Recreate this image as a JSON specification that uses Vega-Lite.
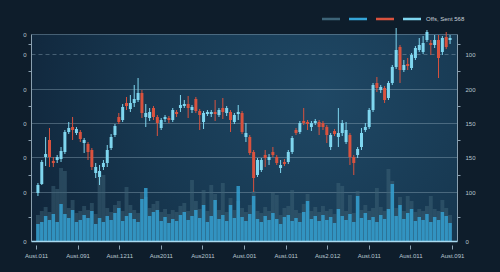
{
  "$schema": "https://vega.github.io/schema/vega-lite/v6.json",
  "width": 426,
  "height": 207,
  "autosize": {"type": "none"},
  "padding": {"left": 31, "top": 34, "right": 43, "bottom": 31},
  "background": "#0e1d2b",
  "config": {
    "font": "Liberation Sans",
    "view": {
      "stroke": null,
      "fill": {
        "gradient": "radial",
        "x1": 0.68, "y1": 0.4, "r1": 0,
        "x2": 0.68, "y2": 0.4, "r2": 0.75,
        "stops": [
          {"offset": 0, "color": "#1f4865"},
          {"offset": 0.55, "color": "#173851"},
          {"offset": 1, "color": "#10253a"}
        ]
      }
    },
    "axis": {"labelFont": "Liberation Sans", "labelColor": "#b8c6d1", "labelFontSize": 6}
  },
  "data": {
    "values": [
      {"t":0,"o":48,"c":56,"h":58,"l":45,"d":"up","vol":17,"bv":26},
      {"t":1,"o":57,"c":79,"h":81,"l":56,"d":"up","vol":19,"bv":30},
      {"t":2,"o":84,"c":87,"h":104,"l":75,"d":"up","vol":25,"bv":34},
      {"t":3,"o":101,"c":84,"h":113,"l":74,"d":"down","vol":21,"bv":29},
      {"t":4,"o":80,"c":78,"h":84,"l":74,"d":"down","vol":27,"bv":55},
      {"t":5,"o":81,"c":84,"h":86,"l":78,"d":"up","vol":19,"bv":52},
      {"t":6,"o":82,"c":90,"h":94,"l":79,"d":"up","vol":37,"bv":73},
      {"t":7,"o":89,"c":109,"h":111,"l":87,"d":"up","vol":27,"bv":70},
      {"t":8,"o":109,"c":113,"h":119,"l":107,"d":"up","vol":23,"bv":33},
      {"t":9,"o":114,"c":111,"h":124,"l":101,"d":"down","vol":31,"bv":41},
      {"t":10,"o":108,"c":112,"h":114,"l":106,"d":"up","vol":19,"bv":28},
      {"t":11,"o":109,"c":102,"h":111,"l":99,"d":"down","vol":21,"bv":30},
      {"t":12,"o":98,"c":101,"h":103,"l":88,"d":"up","vol":26,"bv":35},
      {"t":13,"o":97,"c":89,"h":99,"l":81,"d":"down","vol":23,"bv":31},
      {"t":14,"o":91,"c":74,"h":93,"l":71,"d":"down","vol":30,"bv":38},
      {"t":15,"o":68,"c":74,"h":78,"l":63,"d":"up","vol":17,"bv":27},
      {"t":16,"o":64,"c":70,"h":76,"l":56,"d":"up","vol":23,"bv":69},
      {"t":17,"o":74,"c":78,"h":81,"l":71,"d":"up","vol":19,"bv":66},
      {"t":18,"o":78,"c":91,"h":96,"l":74,"d":"up","vol":25,"bv":33},
      {"t":19,"o":93,"c":104,"h":107,"l":91,"d":"up","vol":21,"bv":29},
      {"t":20,"o":106,"c":115,"h":117,"l":104,"d":"up","vol":28,"bv":36},
      {"t":21,"o":124,"c":119,"h":128,"l":117,"d":"down","vol":33,"bv":40},
      {"t":22,"o":121,"c":134,"h":137,"l":119,"d":"up","vol":20,"bv":30},
      {"t":23,"o":138,"c":135,"h":144,"l":131,"d":"down","vol":25,"bv":54},
      {"t":24,"o":132,"c":138,"h":146,"l":129,"d":"up","vol":28,"bv":36},
      {"t":25,"o":138,"c":142,"h":156,"l":134,"d":"up","vol":22,"bv":31},
      {"t":26,"o":141,"c":148,"h":163,"l":139,"d":"up","vol":19,"bv":28},
      {"t":27,"o":148,"c":128,"h":151,"l":123,"d":"down","vol":42,"bv":48},
      {"t":28,"o":124,"c":128,"h":137,"l":114,"d":"up","vol":53,"bv":44},
      {"t":29,"o":123,"c":129,"h":133,"l":120,"d":"up","vol":25,"bv":33},
      {"t":30,"o":133,"c":124,"h":135,"l":121,"d":"down","vol":29,"bv":37},
      {"t":31,"o":124,"c":118,"h":126,"l":105,"d":"down","vol":31,"bv":40},
      {"t":32,"o":113,"c":121,"h":123,"l":111,"d":"up","vol":20,"bv":29},
      {"t":33,"o":122,"c":124,"h":126,"l":119,"d":"up","vol":24,"bv":32},
      {"t":34,"o":123,"c":121,"h":125,"l":118,"d":"down","vol":18,"bv":27},
      {"t":35,"o":121,"c":131,"h":133,"l":119,"d":"up","vol":22,"bv":31},
      {"t":36,"o":129,"c":127,"h":131,"l":124,"d":"down","vol":20,"bv":29},
      {"t":37,"o":133,"c":136,"h":146,"l":129,"d":"up","vol":26,"bv":35},
      {"t":38,"o":135,"c":137,"h":141,"l":133,"d":"up","vol":29,"bv":38},
      {"t":39,"o":137,"c":133,"h":145,"l":123,"d":"down","vol":21,"bv":30},
      {"t":40,"o":131,"c":134,"h":136,"l":128,"d":"up","vol":25,"bv":61},
      {"t":41,"o":142,"c":130,"h":144,"l":128,"d":"down","vol":31,"bv":40},
      {"t":42,"o":130,"c":126,"h":132,"l":111,"d":"down","vol":23,"bv":32},
      {"t":43,"o":119,"c":128,"h":130,"l":112,"d":"up","vol":36,"bv":51},
      {"t":44,"o":127,"c":129,"h":131,"l":125,"d":"up","vol":19,"bv":30},
      {"t":45,"o":127,"c":129,"h":131,"l":124,"d":"up","vol":25,"bv":56},
      {"t":46,"o":129,"c":127,"h":141,"l":120,"d":"down","vol":41,"bv":47},
      {"t":47,"o":126,"c":131,"h":133,"l":124,"d":"up","vol":22,"bv":31},
      {"t":48,"o":133,"c":129,"h":143,"l":122,"d":"down","vol":26,"bv":58},
      {"t":49,"o":128,"c":133,"h":135,"l":125,"d":"up","vol":20,"bv":29},
      {"t":50,"o":129,"c":121,"h":131,"l":109,"d":"down","vol":36,"bv":43},
      {"t":51,"o":119,"c":126,"h":128,"l":117,"d":"up","vol":23,"bv":31},
      {"t":52,"o":127,"c":129,"h":136,"l":121,"d":"up","vol":55,"bv":40},
      {"t":53,"o":128,"c":109,"h":130,"l":107,"d":"down","vol":24,"bv":33},
      {"t":54,"o":104,"c":108,"h":118,"l":99,"d":"up","vol":20,"bv":29},
      {"t":55,"o":104,"c":88,"h":106,"l":86,"d":"down","vol":27,"bv":36},
      {"t":56,"o":89,"c":63,"h":91,"l":49,"d":"down","vol":45,"bv":50},
      {"t":57,"o":66,"c":81,"h":83,"l":64,"d":"up","vol":22,"bv":30},
      {"t":58,"o":71,"c":81,"h":83,"l":69,"d":"up","vol":19,"bv":28},
      {"t":59,"o":86,"c":83,"h":91,"l":74,"d":"down","vol":25,"bv":34},
      {"t":60,"o":81,"c":84,"h":87,"l":76,"d":"up","vol":21,"bv":30},
      {"t":61,"o":89,"c":86,"h":94,"l":84,"d":"down","vol":28,"bv":48},
      {"t":62,"o":84,"c":78,"h":86,"l":76,"d":"down","vol":22,"bv":46},
      {"t":63,"o":73,"c":76,"h":81,"l":68,"d":"up","vol":17,"bv":26},
      {"t":64,"o":79,"c":77,"h":82,"l":75,"d":"down","vol":24,"bv":33},
      {"t":65,"o":79,"c":89,"h":91,"l":77,"d":"up","vol":26,"bv":35},
      {"t":66,"o":89,"c":103,"h":105,"l":87,"d":"up","vol":20,"bv":51},
      {"t":67,"o":111,"c":108,"h":113,"l":106,"d":"down","vol":23,"bv":31},
      {"t":68,"o":109,"c":118,"h":120,"l":107,"d":"up","vol":19,"bv":28},
      {"t":69,"o":120,"c":118,"h":133,"l":116,"d":"down","vol":29,"bv":37},
      {"t":70,"o":119,"c":117,"h":121,"l":111,"d":"down","vol":40,"bv":47},
      {"t":71,"o":114,"c":118,"h":120,"l":110,"d":"up","vol":22,"bv":30},
      {"t":72,"o":118,"c":120,"h":122,"l":116,"d":"up","vol":25,"bv":34},
      {"t":73,"o":119,"c":114,"h":121,"l":106,"d":"down","vol":20,"bv":29},
      {"t":74,"o":118,"c":114,"h":120,"l":111,"d":"down","vol":26,"bv":35},
      {"t":75,"o":114,"c":106,"h":116,"l":98,"d":"down","vol":21,"bv":30},
      {"t":76,"o":94,"c":106,"h":108,"l":91,"d":"up","vol":24,"bv":32},
      {"t":77,"o":110,"c":107,"h":112,"l":105,"d":"down","vol":18,"bv":27},
      {"t":78,"o":104,"c":108,"h":133,"l":94,"d":"up","vol":32,"bv":58},
      {"t":79,"o":108,"c":118,"h":121,"l":105,"d":"up","vol":25,"bv":55},
      {"t":80,"o":99,"c":111,"h":119,"l":97,"d":"up","vol":21,"bv":30},
      {"t":81,"o":106,"c":84,"h":108,"l":76,"d":"down","vol":27,"bv":46},
      {"t":82,"o":84,"c":78,"h":86,"l":66,"d":"down","vol":19,"bv":28},
      {"t":83,"o":86,"c":92,"h":94,"l":83,"d":"up","vol":45,"bv":50},
      {"t":84,"o":94,"c":108,"h":113,"l":91,"d":"up","vol":23,"bv":31},
      {"t":85,"o":111,"c":114,"h":118,"l":109,"d":"up","vol":28,"bv":36},
      {"t":86,"o":114,"c":131,"h":133,"l":112,"d":"up","vol":21,"bv":30},
      {"t":87,"o":131,"c":156,"h":158,"l":129,"d":"up","vol":24,"bv":33},
      {"t":88,"o":158,"c":153,"h":164,"l":149,"d":"down","vol":19,"bv":53},
      {"t":89,"o":151,"c":154,"h":156,"l":148,"d":"up","vol":26,"bv":34},
      {"t":90,"o":153,"c":141,"h":155,"l":138,"d":"down","vol":22,"bv":30},
      {"t":91,"o":143,"c":158,"h":160,"l":141,"d":"up","vol":32,"bv":72},
      {"t":92,"o":158,"c":174,"h":176,"l":156,"d":"up","vol":57,"bv":60},
      {"t":93,"o":174,"c":191,"h":213,"l":172,"d":"up","vol":25,"bv":33},
      {"t":94,"o":194,"c":171,"h":196,"l":158,"d":"down","vol":36,"bv":44},
      {"t":95,"o":171,"c":176,"h":181,"l":169,"d":"up","vol":22,"bv":30},
      {"t":96,"o":177,"c":175,"h":183,"l":171,"d":"down","vol":28,"bv":45},
      {"t":97,"o":173,"c":186,"h":188,"l":171,"d":"up","vol":32,"bv":40},
      {"t":98,"o":183,"c":193,"h":195,"l":181,"d":"up","vol":20,"bv":29},
      {"t":99,"o":191,"c":196,"h":203,"l":189,"d":"up","vol":24,"bv":32},
      {"t":100,"o":189,"c":198,"h":205,"l":187,"d":"up","vol":21,"bv":30},
      {"t":101,"o":201,"c":209,"h":211,"l":199,"d":"up","vol":27,"bv":35},
      {"t":102,"o":198,"c":196,"h":201,"l":186,"d":"down","vol":19,"bv":45},
      {"t":103,"o":196,"c":201,"h":206,"l":193,"d":"up","vol":24,"bv":32},
      {"t":104,"o":201,"c":183,"h":206,"l":163,"d":"down","vol":21,"bv":30},
      {"t":105,"o":189,"c":203,"h":205,"l":186,"d":"up","vol":29,"bv":41},
      {"t":106,"o":204,"c":194,"h":209,"l":192,"d":"down","vol":25,"bv":33},
      {"t":107,"o":201,"c":203,"h":206,"l":197,"d":"up","vol":18,"bv":26}
    ]
  },
  "encoding": {
    "x": {
      "field": "t",
      "type": "quantitative",
      "scale": {"domain": [-0.5, 107.5], "nice": false, "zero": false},
      "axis": {
        "title": null,
        "values": [-0.5, 10.3, 21.1, 31.9, 42.7, 53.5, 64.3, 75.1, 85.9, 96.7, 107.5],
        "labelExpr": "['Aust.011','Aust.091','Aust.1211','Aus2011','Aus2011','Aust.001','Aust.011','Aus2.012','Aust.011','Aust.011','Aust.091'][round((datum.value + 0.5) / 10.8)]",
        "grid": false,
        "domain": true,
        "domainColor": "#a8d9ef",
        "domainWidth": 1.5,
        "tickColor": "#8ea4b4",
        "tickSize": 8,
        "tickDash": [0, 4, 4],
        "labelPadding": 3,
        "labelFlush": false,
        "zindex": 1
      }
    }
  },
  "resolve": {"axis": {"y": "independent"}},
  "layer": [
    {
      "mark": {"type": "bar", "size": 3.9, "opacity": 0.5},
      "encoding": {
        "y": {
          "field": "bv",
          "type": "quantitative",
          "scale": {"domain": [0, 207], "nice": false, "zero": true},
          "axis": {
            "orient": "left",
            "title": null,
            "values": [0, 24, 49, 66, 84, 101, 118, 135, 152, 170, 187, 197, 207],
            "labelExpr": "indexof([0,49,84,118,152,187,207], datum.value) >= 0 ? '0' : ''",
            "grid": true,
            "gridColor": "#8fa9bb",
            "gridOpacity": {"condition": {"test": "indexof([49,84,118,152,187,207], datum.value) >= 0", "value": 0.42}, "value": 0},
            "gridDash": {"condition": {"test": "datum.value == 187", "value": [4, 3]}, "value": []},
            "domainColor": "#8aa0b0",
            "tickColor": "#8aa0b0",
            "tickSize": {"condition": {"test": "indexof([0,49,84,118,152,187,207], datum.value) >= 0", "value": 0}, "value": 3},
            "labelPadding": 5
          }
        },
        "color": {
          "datum": "vol_bg",
          "type": "nominal",
          "scale": {"domain": ["vol_bg", "vol", "down", "up"], "range": ["#3d6478", "#35a5d8", "#d9523e", "#7fd6ef"]},
          "legend": {
            "orient": "none",
            "legendX": 291,
            "legendY": -24,
            "direction": "horizontal",
            "title": null,
            "symbolType": "M-1,-0.14H1V0.14H-1Z",
            "symbolSize": 324,
            "symbolOpacity": 1,
            "symbolStrokeWidth": 0,
            "labelExpr": "datum.label == 'up' ? 'Offs, Sent 568' : ''",
            "labelFontSize": 6,
            "labelColor": "#c8d2da",
            "labelOffset": 5,
            "columnPadding": 4
          }
        }
      }
    },
    {
      "mark": {"type": "bar", "size": 3.5, "opacity": 0.8},
      "encoding": {
        "y": {
          "field": "vol",
          "type": "quantitative",
          "axis": {
            "orient": "right",
            "title": null,
            "values": [0, 24, 49, 66, 84, 101, 118, 135, 152, 170, 187, 197, 207],
            "labelExpr": "datum.value == 0 ? '0' : datum.value == 49 ? '100' : datum.value == 84 ? '150' : datum.value == 118 ? '150' : datum.value == 152 ? '200' : datum.value == 187 ? '100' : ''",
            "grid": false,
            "domainColor": "#8aa0b0",
            "tickColor": "#8aa0b0",
            "tickSize": {"condition": {"test": "indexof([0,49,84,118,152,187,207], datum.value) >= 0", "value": 0}, "value": 3},
            "labelPadding": 8
          }
        },
        "color": {"datum": "vol", "type": "nominal", "legend": null}
      }
    },
    {
      "mark": {"type": "rule", "strokeWidth": 1},
      "encoding": {
        "y": {"field": "l", "type": "quantitative", "axis": null},
        "y2": {"field": "h"},
        "color": {"field": "d", "type": "nominal", "legend": null}
      }
    },
    {
      "mark": {"type": "bar", "size": 3},
      "encoding": {
        "y": {"field": "o", "type": "quantitative", "axis": null},
        "y2": {"field": "c"},
        "color": {"field": "d", "type": "nominal", "legend": null}
      }
    }
  ]
}
